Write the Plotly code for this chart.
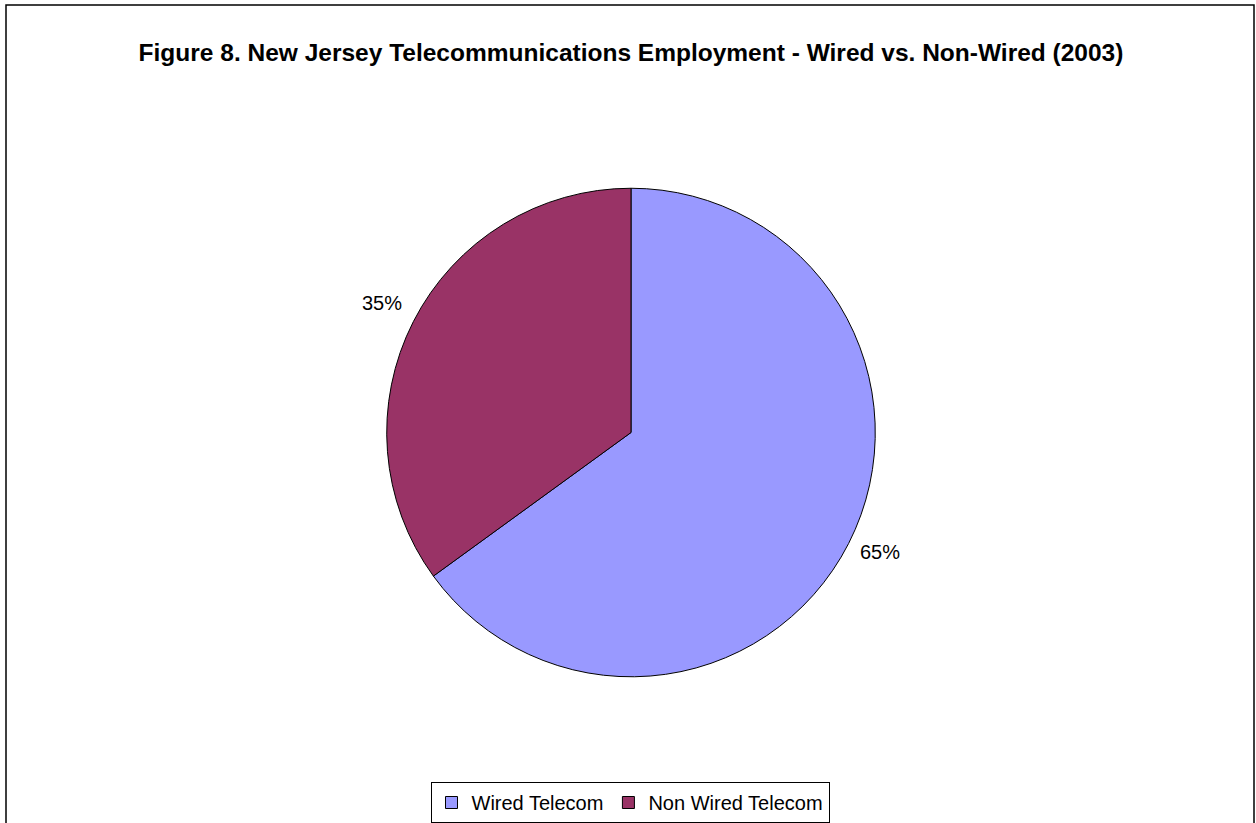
import math
import plotly.graph_objects as go

categories = ["Wired Telecom", "Non Wired Telecom"]
values = [65, 35]
colors = ["#9999FF", "#993366"]
title_text = "Figure 8. New Jersey Telecommunications Employment - Wired vs. Non-Wired (2003)"

W, H = 1256, 823
cx, cy, r = 631, 435, 246
# domain box tuned so the drawn pie lands at (cx, cy) with radius r
dcy, dr = cy + 5, r + 2.5

fig = go.Figure()
fig.add_trace(go.Pie(
    labels=categories, values=values, sort=False, direction="clockwise", rotation=0,
    marker=dict(colors=colors, line=dict(color="#000000", width=1)),
    textinfo="none", hoverinfo="label+percent",
    domain=dict(x=[(cx - dr) / W, (cx + dr) / W], y=[1 - (dcy + dr) / H, 1 - (dcy - dr) / H]),
))

# percentage labels placed outside each slice
total = sum(values)
cum = 0
annotations = []
for v in values:
    mid = (cum + v / 2) / total * 2 * math.pi
    cum += v
    rl = r + 33
    x = cx + rl * math.sin(mid)
    y = cy - rl * math.cos(mid)
    annotations.append(dict(x=x / W, y=1 - y / H, xref="paper", yref="paper",
                            text=f"{round(v / total * 100)}%", showarrow=False,
                            font=dict(family="Liberation Sans, Arial", size=20, color="#000000"),
                            xanchor="center", yanchor="middle"))

fig.update_layout(
    width=W, height=H,
    margin=dict(l=0, r=0, t=0, b=0),
    paper_bgcolor="white", plot_bgcolor="white",
    title=dict(text=f"<b>{title_text}</b>", x=631 / W, xanchor="center", y=1 - 52 / H, yanchor="middle",
               font=dict(family="Liberation Sans, Arial", size=24.5, color="#000000")),
    legend=dict(orientation="h", x=630 / W, xanchor="center", y=1 - 796 / H, yanchor="top",
                bordercolor="#000000", borderwidth=1, bgcolor="white",
                font=dict(family="Liberation Sans, Arial", size=20, color="#000000"),
                itemwidth=30, tracegroupgap=0),
    annotations=annotations,
    shapes=[dict(type="rect", xref="paper", yref="paper", x0=6 / W, x1=1254 / W, y0=-0.02, y1=1 - 5 / H,
                 line=dict(color="#000000", width=1.5), fillcolor="rgba(0,0,0,0)", layer="below")],
)

fig.write_html("out.html", config={"displayModeBar": False},
               post_script="document.body.style.margin='0';document.body.style.overflow='hidden';")
